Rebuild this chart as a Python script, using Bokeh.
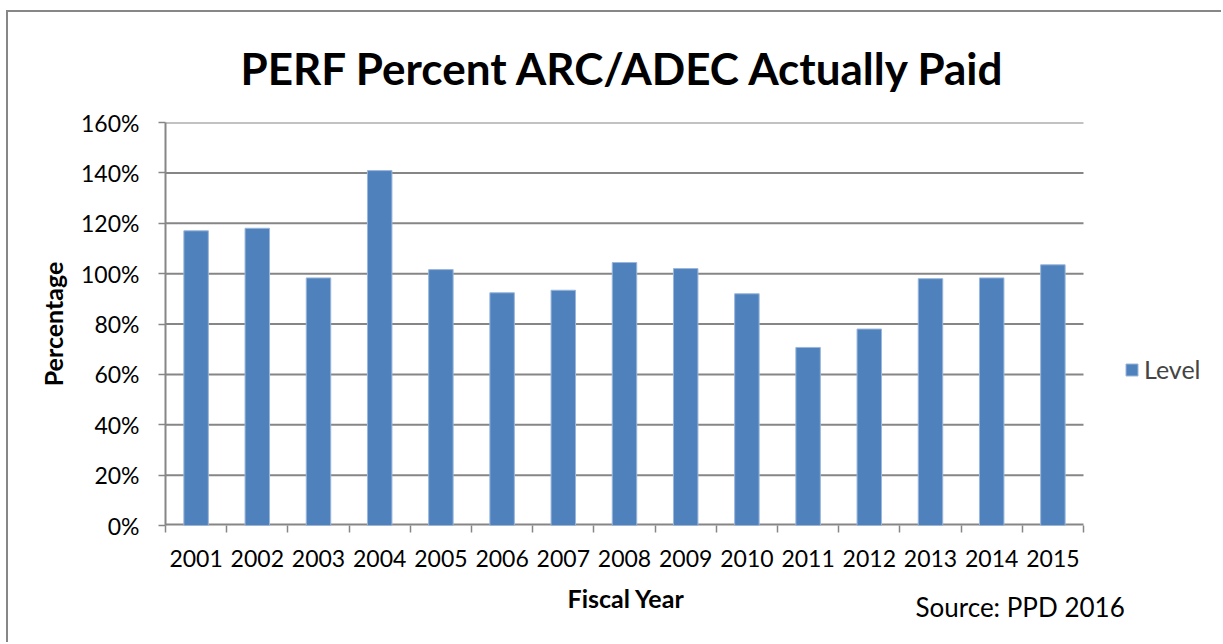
from bokeh.plotting import figure
from bokeh.models import (Range1d, FixedTicker, NumeralTickFormatter, Legend,
                          LegendItem, ColumnDataSource, Title)
from bokeh.embed import file_html
from bokeh.resources import INLINE

years = ["2001", "2002", "2003", "2004", "2005", "2006", "2007", "2008",
         "2009", "2010", "2011", "2012", "2013", "2014", "2015"]
level = [1.17, 1.18, 0.983, 1.409, 1.016, 0.924, 0.934, 1.044,
         1.020, 0.920, 0.707, 0.780, 0.980, 0.983, 1.035]
y_ticks = [0, 0.2, 0.4, 0.6, 0.8, 1.0, 1.2, 1.4, 1.6]

title_text = "PERF Percent ARC/ADEC  Actually Paid"
x_title = "Fiscal Year"
y_title = "Percentage"
source_text = "Source: PPD 2016"

FONT = "Lato"
GREY = "#868686"

n = len(years)
xpos = list(range(1, n + 1))
src = ColumnDataSource(dict(x=xpos, top=level, year=years))

OX, OY = 8, 12            # canvas offset inside the page (border)
W, H = 1223 - OX, 644 - OY
AXL, AXR = 165 - OX, 1083 - OX      # category axis span (canvas px)
FT, FB = 122 - OY, 525 - OY
FR = W - 8                           # frame extends right to hold the legend
unit = (AXR - AXL) / n
x_end = 0.5 + (FR - AXL) / unit

p = figure(width=W, height=H, output_backend="svg", toolbar_location=None,
           x_range=Range1d(0.5, x_end), y_range=Range1d(0, 1.6),
           min_border_left=AXL, min_border_right=W - FR,
           min_border_top=FT, min_border_bottom=H - FB)
p.styles = {"margin-left": "6px", "margin-top": "10px",
            "border-left": "2px solid #878787", "border-top": "2px solid #878787"}
p.outline_line_color = None
p.background_fill_color = "white"
p.border_fill_color = "white"

# gridlines and x axis line limited to the category span
p.segment(x0=0.5, x1=n + 0.5, y0=y_ticks[1:], y1=y_ticks[1:],
          line_color=GREY, line_width=2)
p.segment(x0=[0.5], x1=[n + 0.5], y0=[0], y1=[0], line_color=GREY, line_width=4)

r = p.vbar(x="x", top="top", width=0.4, source=src, fill_color="#4F81BD",
           line_color="#9AB6DA", line_width=1)

# title
p.title.text = title_text
p.title.align = "left"
p.title.offset = 240 - OX - AXL
p.title.vertical_align = "top"
p.title.text_font = FONT
p.title.text_font_style = "bold"
p.title.text_font_size = "44px"
p.title.text_color = "black"
p.title.standoff = 54

# y axis
ya = p.yaxis[0]
ya.ticker = FixedTicker(ticks=y_ticks)
ya.formatter = NumeralTickFormatter(format="0%")
ya.axis_line_color = GREY
ya.axis_line_width = 2
ya.major_tick_line_color = GREY
ya.major_tick_line_width = 1.5
ya.major_tick_out = 7
ya.major_tick_in = 0
ya.minor_tick_line_color = None
ya.major_label_text_font = FONT
ya.major_label_text_font_size = "23px"
ya.major_label_text_color = "black"
ya.major_label_standoff = 19
ya.axis_label = y_title
ya.axis_label_text_font = FONT
ya.axis_label_text_font_style = "bold"
ya.axis_label_text_font_size = "25px"
ya.axis_label_text_color = "black"
ya.axis_label_standoff = 10

# x axis
xa = p.xaxis[0]
xa.ticker = FixedTicker(ticks=xpos, minor_ticks=[i + 0.5 for i in range(n + 1)])
xa.major_label_overrides = {i: y for i, y in zip(xpos, years)}
xa.axis_line_color = None
xa.major_tick_line_color = None
xa.major_tick_out = 0
xa.major_tick_in = 0
xa.minor_tick_line_color = GREY
xa.minor_tick_line_width = 1.5
xa.minor_tick_out = 7
xa.minor_tick_in = 0
xa.major_label_text_font = FONT
xa.major_label_text_font_size = "23px"
xa.major_label_text_color = "black"
xa.major_label_standoff = 17

p.xgrid.grid_line_color = None
p.ygrid.grid_line_color = None

# x axis title (placed under the category span) and source note
fy_title = Title(text=x_title, align="left", offset=567 - OX - AXL, vertical_align="top",
                 standoff=26, text_font=FONT, text_font_style="bold",
                 text_font_size="25px", text_color="black")
p.add_layout(fy_title, "below")
src_title = Title(text=source_text, align="left", offset=915 - OX - AXL, vertical_align="top",
                  standoff=-74, text_font=FONT, text_font_style="normal",
                  text_font_size="26px", text_color="black")
p.add_layout(src_title, "below")

legend = Legend(items=[LegendItem(label="Level", renderers=[r])],
                location=(1124 - OX - AXL, FB - (384 - OY)), orientation="vertical",
                label_text_font=FONT, label_text_font_size="25px",
                glyph_width=15, glyph_height=15, background_fill_alpha=0,
                border_line_color=None, label_standoff=5, padding=0, margin=0)
p.add_layout(legend, "center")

open("out.html", "w").write(file_html(p, INLINE))
